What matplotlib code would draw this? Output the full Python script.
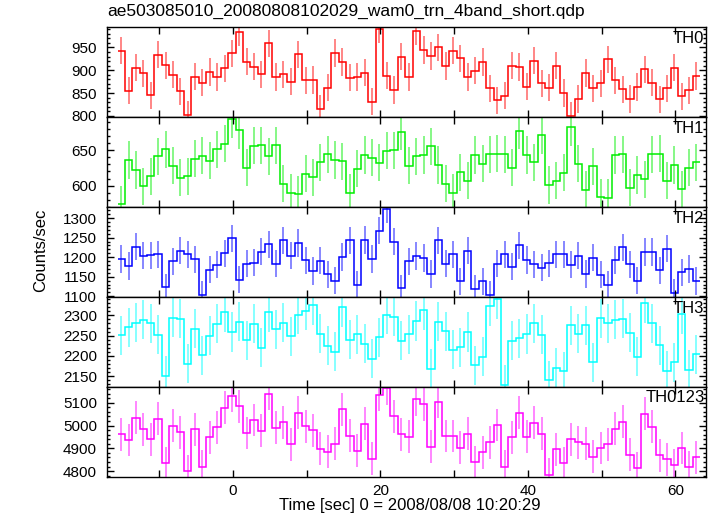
import matplotlib
matplotlib.use("Agg")
import matplotlib.pyplot as plt
from matplotlib.ticker import MultipleLocator
import numpy as np

plt.rcParams['font.family'] = ['Liberation Sans', 'DejaVu Sans']

# time bins (1 s) and light-curve values
t_start = -15.64
n_bins = 79

th0 = [943, 855, 906, 893, 845, 934, 911, 890, 854, 802, 886, 873, 896, 885, 904, 937, 983, 919, 908, 891,
       959, 885, 891, 875, 935, 878, 879, 815, 862, 938, 918, 884, 885, 895, 831, 990, 888, 857, 930,
       885, 985, 944, 931, 950, 909, 943, 926, 885, 899, 918, 860, 834, 844, 910, 907, 864, 921, 871, 862,
       910, 850, 800, 837, 894, 860, 871, 924, 878, 858, 837, 863, 902, 873, 836, 860, 906, 843, 856, 887]
th1 = [574, 636, 622, 599, 613, 641, 651, 628, 611, 613, 638, 642, 635, 651, 659, 693, 678, 625, 656, 657,
       641, 657, 603, 590, 588, 617, 612, 633, 644, 636, 634, 590, 624, 643, 639, 632, 649, 650, 676,
       628, 641, 643, 655, 629, 603, 590, 619, 607, 643, 631, 644, 645, 644, 625, 677, 643, 633, 671, 601,
       607, 618, 682, 631, 594, 627, 584, 583, 643, 644, 597, 615, 609, 644, 645, 607, 629, 595, 625, 633]
th2 = [1195, 1177, 1227, 1204, 1205, 1207, 1123, 1189, 1217, 1207, 1194, 1104, 1168, 1181, 1210, 1248,
       1142, 1183, 1186, 1214, 1233, 1183, 1243, 1204, 1236, 1192, 1165, 1191, 1156, 1140, 1200, 1243,
       1130, 1244, 1195, 1268, 1323, 1240, 1120,
       1189, 1203, 1198, 1157, 1243, 1183, 1207, 1138, 1217, 1119, 1138, 1103, 1183, 1207, 1176, 1230,
       1193, 1182, 1173, 1184, 1207, 1207, 1181, 1204, 1157, 1199, 1155, 1130, 1193, 1225, 1182, 1140,
       1213, 1213, 1166, 1222, 1108, 1161, 1170, 1139]
th3 = [2251, 2271, 2282, 2289, 2280, 2252, 2152, 2294, 2291, 2181, 2267, 2202, 2250, 2279, 2308, 2259,
       2284, 2239, 2279, 2220, 2308, 2266, 2282, 2248, 2301, 2311, 2325, 2255, 2225, 2210, 2320, 2240,
       2253, 2230, 2193, 2246, 2301, 2296, 2238,
       2253, 2286, 2312, 2168, 2284, 2261, 2215, 2222, 2259, 2177, 2198, 2322, 2339, 2129, 2237, 2244,
       2254, 2280, 2252, 2140, 2171, 2162, 2276, 2255, 2276, 2184, 2293, 2281, 2289, 2292, 2257, 2198,
       2330, 2280, 2226, 2164, 2184, 2302, 2166, 2204]
th0123 = [4962, 4937, 5034, 4983, 4939, 5030, 4835, 4999, 4970, 4800, 4983, 4819, 4948, 4992, 5078, 5132,
          5085, 4967, 5025, 4977, 5140, 4990, 5015, 4918, 5056, 4996, 4980, 4899, 4885, 4921, 5071, 4955,
          4889, 5008, 4855, 5134, 5163, 5041, 4961,
          4951, 5115, 5094, 4907, 5104, 4954, 4954, 4902, 4965, 4838, 4882, 4927, 5003, 4819, 4948, 5056,
          4951, 5012, 4965, 4784, 4895, 4836, 4939, 4926, 4921, 4863, 4901, 4917, 4987, 5017, 4872, 4812,
          5053, 4995, 4869, 4851, 4825, 4901, 4816, 4860]

errors = [30, 26, 35, 48, 72]
names = ["TH0", "TH1", "TH2", "TH3", "TH0123"]
series = [th0, th1, th2, th3, th0123]
colors = ["#ff0000", "#00ee00", "#0000ff", "#00ffff", "#ff00ff"]
ylims = [(797, 994), (570, 696), (1098, 1328), (2124, 2345), (4775, 5170)]
ymajor = [50, 50, 50, 50, 100]
yminor = [10, 10, 10, 10, 20]

edges = t_start + np.arange(n_bins + 1)
centers = edges[:-1] + 0.5

fig = plt.figure(figsize=(7.17, 5.16), dpi=100)
gs = fig.add_gridspec(5, 1, left=0.149, right=0.985, top=0.947, bottom=0.076, hspace=0)

for i in range(5):
    ax = fig.add_subplot(gs[i])
    vals = np.array(series[i])
    ax.errorbar(centers, vals, yerr=errors[i], fmt='none', ecolor=colors[i], elinewidth=1.1, alpha=0.6)
    ax.stairs(vals, edges, baseline=None, color=colors[i], lw=1.1)
    ax.set_xlim(-17.1, 64.2)
    ax.set_ylim(*ylims[i])
    ax.xaxis.set_major_locator(MultipleLocator(20))
    ax.xaxis.set_minor_locator(MultipleLocator(10))
    ax.yaxis.set_major_locator(MultipleLocator(ymajor[i]))
    ax.yaxis.set_minor_locator(MultipleLocator(yminor[i]))
    ax.tick_params(which='both', direction='in', top=True, right=True, labelsize=11, width=1)
    ax.tick_params(axis='y', which='major', length=5, pad=7)
    ax.tick_params(axis='y', which='minor', length=2.5)
    ax.tick_params(axis='x', which='both', length=5, pad=5)
    if i < 4:
        ax.tick_params(axis='x', labelbottom=False)
    for s in ax.spines.values():
        s.set_linewidth(1.0)
    ax.text(0.997, 0.96, names[i], transform=ax.transAxes, ha='right', va='top', fontsize=12)

fig.text(0.149, 0.977, "ae503085010_20080808102029_wam0_trn_4band_short.qdp", ha='left', va='center', fontsize=12.5)
fig.text(0.056, 0.515, "Counts/sec", rotation=90, ha='center', va='center', fontsize=12)
fig.text(0.572, 0.021, "Time [sec] 0 = 2008/08/08 10:20:29", ha='center', va='center', fontsize=12)

fig.savefig("out.png", dpi=100)
